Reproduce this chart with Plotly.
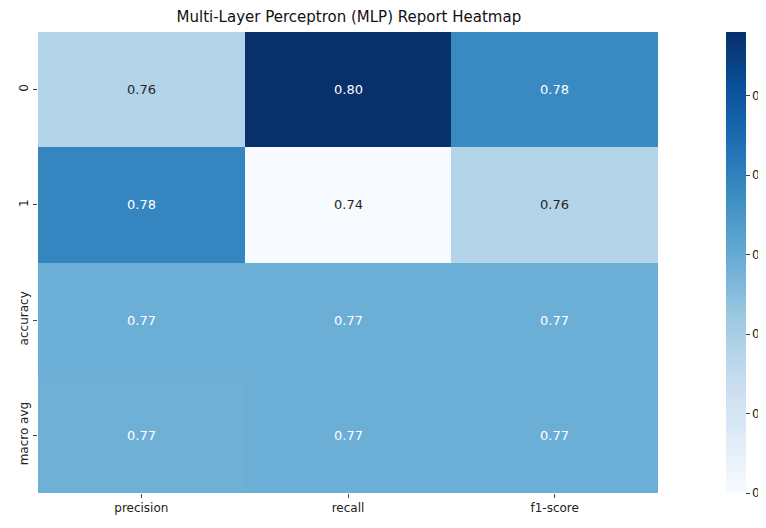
import plotly.graph_objects as go

metrics = ["precision", "recall", "f1-score"]
classes = ["0", "1", "accuracy", "macro avg"]
values = [
    [0.758, 0.798, 0.778],
    [0.779, 0.740, 0.758],
    [0.769, 0.769, 0.769],
    [0.7685, 0.769, 0.7688],
]

blues = ["#f7fbff", "#deebf7", "#c6dbef", "#9ecae1", "#6baed6",
         "#4292c6", "#2171b5", "#08519c", "#08306b"]
scale = [[i / 8, c] for i, c in enumerate(blues)]

vmin = min(min(r) for r in values)
vmax = max(max(r) for r in values)

fig = go.Figure(go.Heatmap(
    z=values, x=metrics, y=classes, colorscale=scale, zmin=vmin, zmax=vmax,
    colorbar=dict(thickness=20, len=1, y=0.5, ypad=0, x=1.11, xanchor="left",
                  xpad=0, outlinewidth=0,
                  tickvals=[0.74, 0.75, 0.76, 0.77, 0.78, 0.79],
                  ticks="outside", ticklen=4, tickfont=dict(size=12, color="#222")),
))

for i, row in enumerate(values):
    for j, v in enumerate(row):
        frac = (v - vmin) / (vmax - vmin)
        fig.add_annotation(x=metrics[j], y=classes[i], text=f"{v:.2f}", showarrow=False,
                           font=dict(size=13, color="white" if frac > 0.45 else "#262626"))

fig.update_layout(
    width=766, height=528,
    margin=dict(l=30, r=116, t=24, b=43, autoexpand=False),
    plot_bgcolor="white", paper_bgcolor="white",
    font=dict(family="DejaVu Sans", size=12, color="#222"),
    title=dict(text="Multi-Layer Perceptron (MLP) Report Heatmap", x=0.445, y=0.983,
               xanchor="center", yanchor="middle", font=dict(size=15, color="#111")),
    xaxis=dict(showgrid=False, ticks="outside", ticklen=4),
    yaxis=dict(showgrid=False, autorange="reversed", ticks="outside", ticklen=4,
               tickangle=-90),
)

fig.write_html("out.html")
